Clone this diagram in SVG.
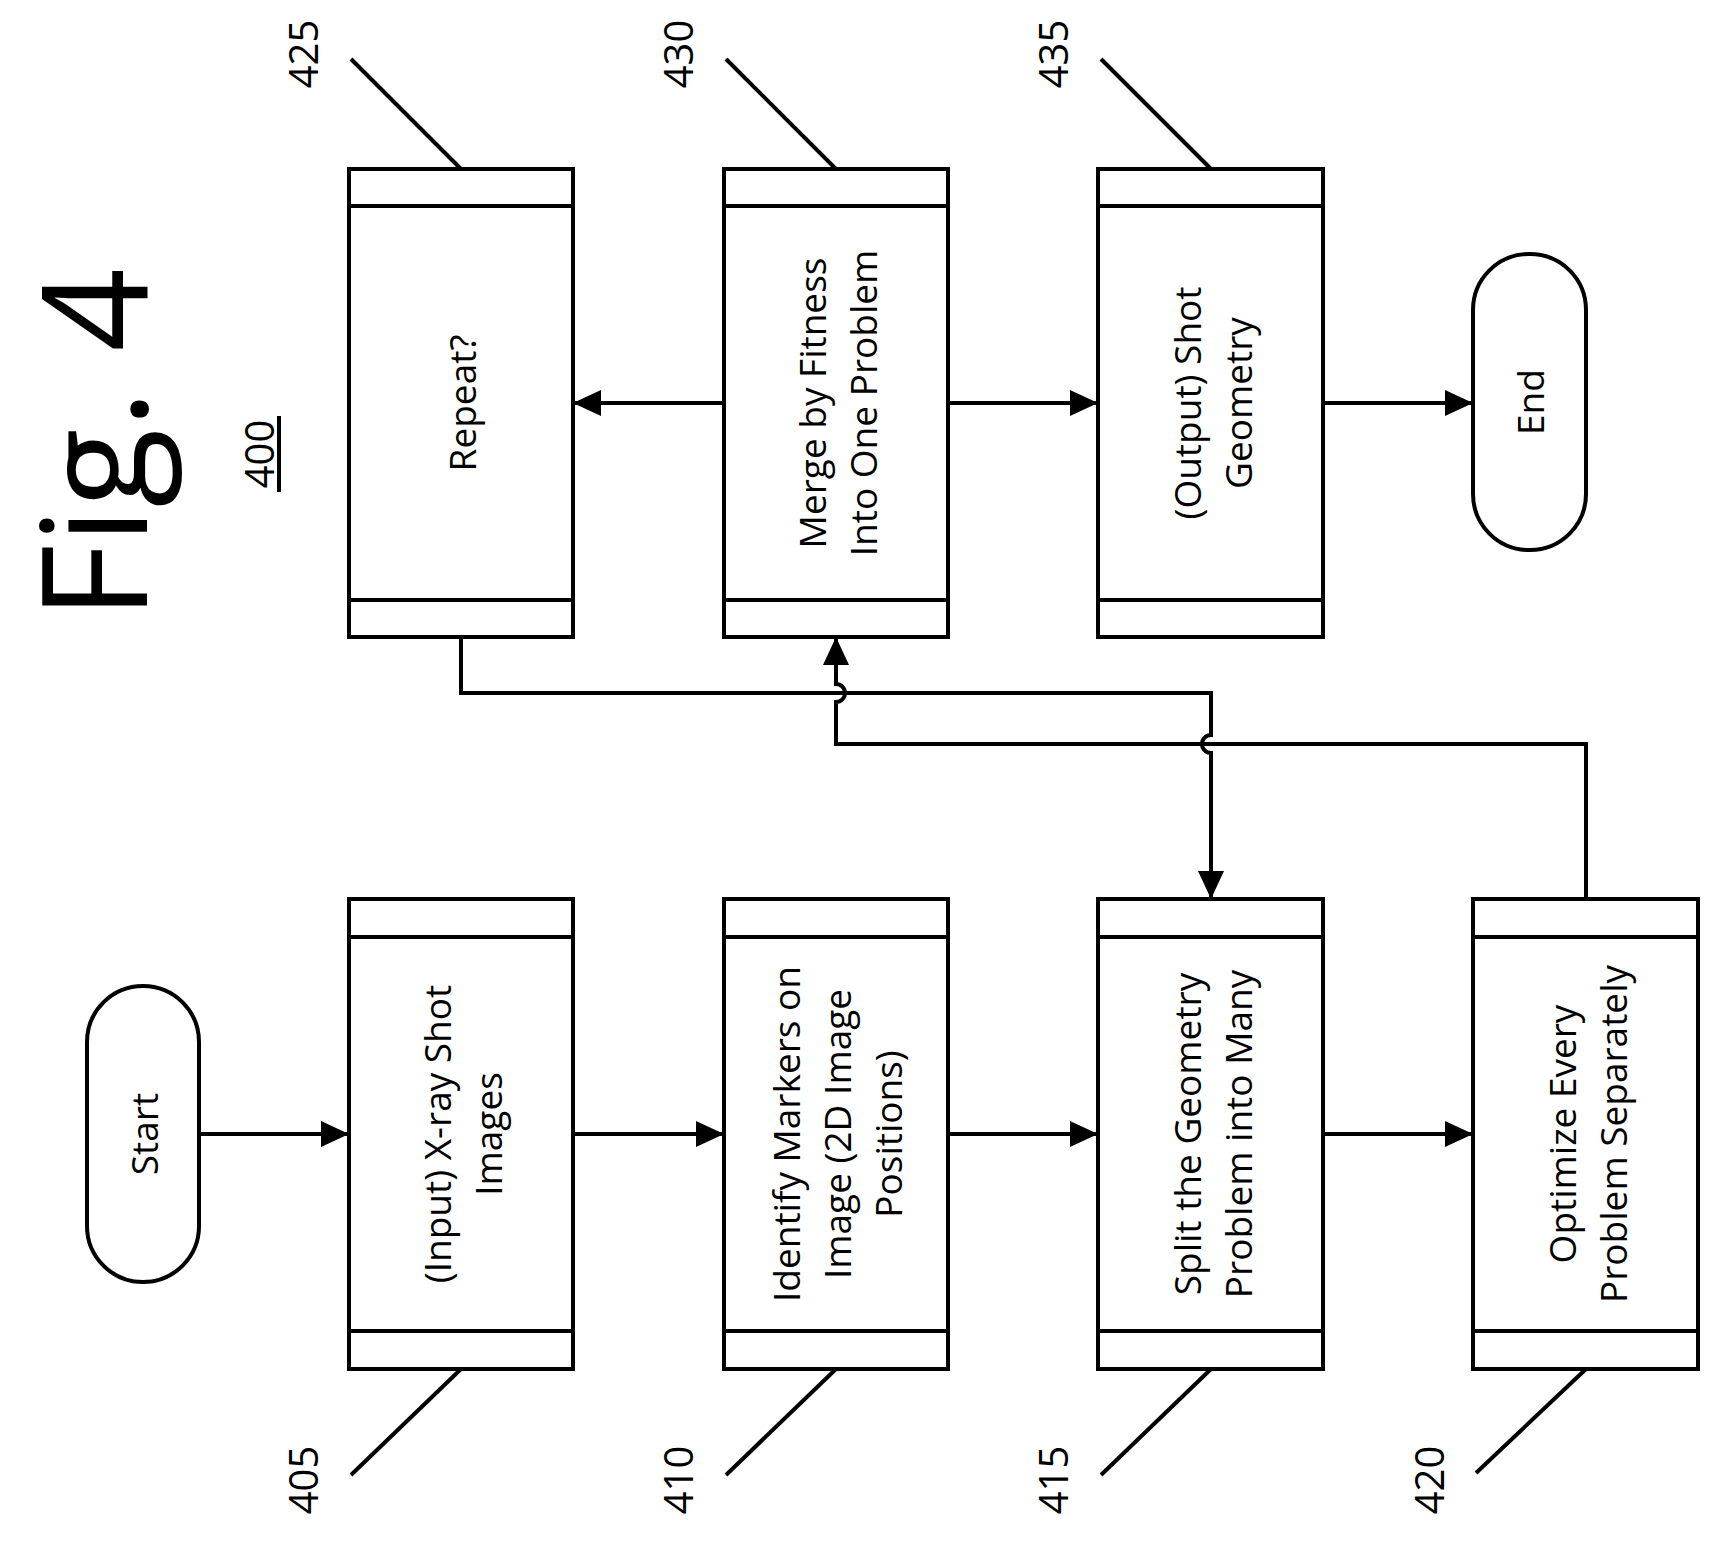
<svg xmlns="http://www.w3.org/2000/svg" width="1721" height="1547" viewBox="0 0 1721 1547">
<style>
.b{fill:#fff;stroke:#000;stroke-width:4}
.l{stroke:#000;stroke-width:4;fill:none}
.t{font-family:"Open Sans",sans-serif;font-size:37px;text-anchor:middle;dominant-baseline:central}
.n{font-family:"Open Sans",sans-serif;font-size:40px;text-anchor:middle;dominant-baseline:central}
</style>
<defs>
<marker id="A" markerWidth="28" markerHeight="26" refX="28" refY="13" orient="auto" markerUnits="userSpaceOnUse"><path d="M0,0L28,13L0,26z"/></marker></defs>
<rect x="0" y="0" width="1721" height="1547" fill="#fff"/>
<text class="n" transform="translate(90,444) rotate(-90)" style="font-size:146px">Fig. 4</text>
<g id="n400"><text class="n" transform="translate(258,454) rotate(-90)">400</text><line class="l" x1="279" y1="416" x2="279" y2="492"/></g>
<g id="start"><rect class="b" x="87" y="986" width="112" height="296" rx="56"/><text class="t" transform="translate(143,1134) rotate(-90)">Start</text></g>
<g id="end"><rect class="b" x="1473" y="254" width="113" height="296" rx="56"/><text class="t" transform="translate(1529,402) rotate(-90)">End</text></g>
<g id="n425"><rect class="b" x="349" y="169" width="224" height="468"/><line class="l" x1="349" y1="206" x2="573" y2="206"/><line class="l" x1="349" y1="600" x2="573" y2="600"/><text class="t" transform="translate(461,403) rotate(-90)">Repeat?</text></g>
<g id="n430"><rect class="b" x="724" y="169" width="224" height="468"/><line class="l" x1="724" y1="206" x2="948" y2="206"/><line class="l" x1="724" y1="600" x2="948" y2="600"/><text class="t" transform="translate(836,403) rotate(-90)"><tspan x="0" y="-25">Merge by Fitness</tspan><tspan x="0" y="26">Into One Problem</tspan></text></g>
<g id="n435"><rect class="b" x="1098" y="169" width="225" height="468"/><line class="l" x1="1098" y1="206" x2="1323" y2="206"/><line class="l" x1="1098" y1="600" x2="1323" y2="600"/><text class="t" transform="translate(1211,403) rotate(-90)"><tspan x="0" y="-25">(Output) Shot</tspan><tspan x="0" y="26">Geometry</tspan></text></g>
<g id="n405"><rect class="b" x="349" y="899" width="224" height="470"/><line class="l" x1="349" y1="937" x2="573" y2="937"/><line class="l" x1="349" y1="1331" x2="573" y2="1331"/><text class="t" transform="translate(461,1134) rotate(-90)"><tspan x="0" y="-25">(Input) X-ray Shot</tspan><tspan x="0" y="26">Images</tspan></text></g>
<g id="n410"><rect class="b" x="724" y="899" width="224" height="470"/><line class="l" x1="724" y1="937" x2="948" y2="937"/><line class="l" x1="724" y1="1331" x2="948" y2="1331"/><text class="t" transform="translate(836,1134) rotate(-90)"><tspan x="0" y="-51">Identify Markers on</tspan><tspan x="0" y="0">Image (2D Image</tspan><tspan x="0" y="51">Positions)</tspan></text></g>
<g id="n415"><rect class="b" x="1098" y="899" width="225" height="470"/><line class="l" x1="1098" y1="937" x2="1323" y2="937"/><line class="l" x1="1098" y1="1331" x2="1323" y2="1331"/><text class="t" transform="translate(1211,1134) rotate(-90)"><tspan x="0" y="-25">Split the Geometry</tspan><tspan x="0" y="26">Problem into Many</tspan></text></g>
<g id="n420"><rect class="b" x="1473" y="899" width="225" height="470"/><line class="l" x1="1473" y1="937" x2="1698" y2="937"/><line class="l" x1="1473" y1="1331" x2="1698" y2="1331"/><text class="t" transform="translate(1586,1134) rotate(-90)"><tspan x="0" y="-25">Optimize Every</tspan><tspan x="0" y="26">Problem Separately</tspan></text></g>
<g id="labels">
<text class="n" transform="translate(302,54) rotate(-90)">425</text><line class="l" x1="461" y1="169" x2="351" y2="59"/>
<text class="n" transform="translate(677,54) rotate(-90)">430</text><line class="l" x1="836" y1="169" x2="726" y2="59"/>
<text class="n" transform="translate(1052,54) rotate(-90)">435</text><line class="l" x1="1211" y1="169" x2="1101" y2="59"/>
<text class="n" transform="translate(302,1480) rotate(-90)">405</text><line class="l" x1="461" y1="1369" x2="351" y2="1475"/>
<text class="n" transform="translate(677,1480) rotate(-90)">410</text><line class="l" x1="836" y1="1369" x2="726" y2="1475"/>
<text class="n" transform="translate(1052,1480) rotate(-90)">415</text><line class="l" x1="1211" y1="1369" x2="1101" y2="1475"/>
<text class="n" transform="translate(1428,1480) rotate(-90)">420</text><line class="l" x1="1586" y1="1369" x2="1476" y2="1473"/>
</g>
<g id="connectors">
<line class="l" x1="199" y1="1134" x2="349" y2="1134" marker-end="url(#A)"/>
<line class="l" x1="573" y1="1134" x2="724" y2="1134" marker-end="url(#A)"/>
<line class="l" x1="948" y1="1134" x2="1098" y2="1134" marker-end="url(#A)"/>
<line class="l" x1="1323" y1="1134" x2="1473" y2="1134" marker-end="url(#A)"/>
<line class="l" x1="724" y1="403" x2="573" y2="403" marker-end="url(#A)"/>
<line class="l" x1="948" y1="403" x2="1098" y2="403" marker-end="url(#A)"/>
<line class="l" x1="1323" y1="403" x2="1473" y2="403" marker-end="url(#A)"/>
<path class="l" d="M461,637V693H1211V735A9,9 0 0 0 1211,753V899" marker-end="url(#A)"/>
<path class="l" d="M1586,899V744H836V702A9,9 0 0 0 836,684V637" marker-end="url(#A)"/>
</g>
</svg>
